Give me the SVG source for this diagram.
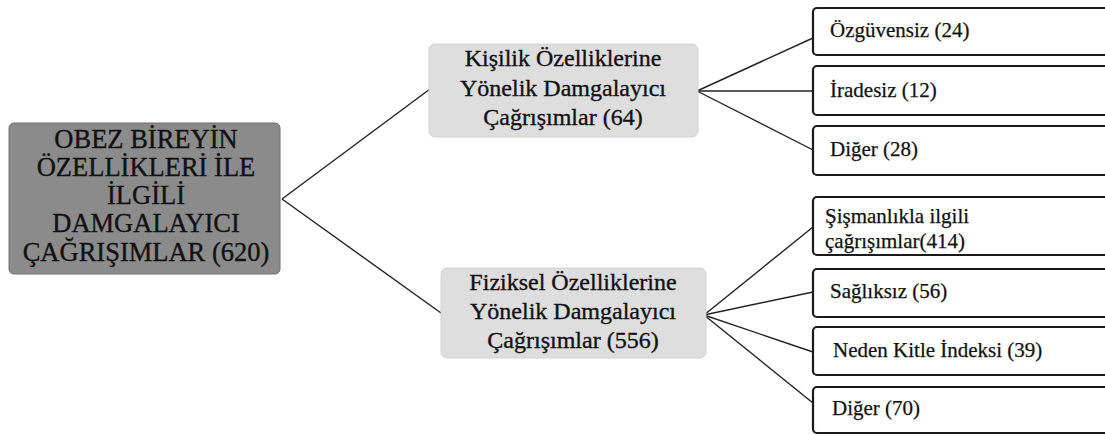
<svg xmlns="http://www.w3.org/2000/svg" width="1105" height="435" viewBox="0 0 1105 435" font-family="'Liberation Serif', 'Times New Roman', serif">
<style>
  text { font-family: "Liberation Serif", "Times New Roman", serif; fill: #111; stroke: #111; stroke-width: 0.35px; }
  .root rect { fill: #8b8b8b; stroke: #6e6e6e; stroke-width: 1; }
  .mid rect { fill: #dedede; stroke: #d2d2d2; stroke-width: 1; }
  .leaf rect { fill: #fff; stroke: #1a1a1a; stroke-width: 2.2; }
  .root text { font-size: 26.5px; text-anchor: middle; }
  .mid text { font-size: 24px; text-anchor: middle; }
  .leaf text { font-size: 21px; stroke-width: 0.25px; }
  .conn line { stroke: #222; stroke-width: 1.4; }
</style>
<rect width="1105" height="435" fill="#fff"/>
<g class="conn">
  <line x1="282" y1="199" x2="430" y2="89"/>
  <line x1="282" y1="199" x2="441" y2="313"/>
  <line x1="697" y1="91" x2="813" y2="38"/>
  <line x1="697" y1="91" x2="813" y2="91"/>
  <line x1="697" y1="91" x2="813" y2="150"/>
  <line x1="704" y1="315" x2="813" y2="227"/>
  <line x1="704" y1="315" x2="813" y2="292"/>
  <line x1="704" y1="315" x2="813" y2="352"/>
  <line x1="704" y1="315" x2="813" y2="403"/>
</g>
<g id="root" class="root">
  <rect x="9" y="123" width="271" height="151" rx="5"/>
  <text x="146" y="148">OBEZ BİREYİN</text>
  <text x="146" y="176">ÖZELLİKLERİ İLE</text>
  <text x="146" y="204">İLGİLİ</text>
  <text x="146" y="232">DAMGALAYICI</text>
  <text x="146" y="261">ÇAĞRIŞIMLAR (620)</text>
</g>
<g id="kisilik" class="mid">
  <rect x="429" y="44" width="269" height="93" rx="6"/>
  <text x="563" y="66">Kişilik Özelliklerine</text>
  <text x="563" y="96">Yönelik Damgalayıcı</text>
  <text x="563" y="125">Çağrışımlar (64)</text>
</g>
<g id="fiziksel" class="mid">
  <rect x="441" y="268" width="265" height="90" rx="6"/>
  <text x="573" y="290">Fiziksel Özelliklerine</text>
  <text x="573" y="319">Yönelik Damgalayıcı</text>
  <text x="573" y="348">Çağrışımlar (556)</text>
</g>
<g id="ozguvensiz" class="leaf">
  <rect x="813" y="8" width="300" height="47" rx="4"/>
  <text x="830" y="37">Özgüvensiz (24)</text>
</g>
<g id="iradesiz" class="leaf">
  <rect x="813" y="66" width="300" height="49" rx="4"/>
  <text x="830" y="97">İradesiz (12)</text>
</g>
<g id="diger1" class="leaf">
  <rect x="813" y="126" width="300" height="49" rx="4"/>
  <text x="830" y="156">Diğer (28)</text>
</g>
<g id="sismanlik" class="leaf">
  <rect x="813" y="197" width="300" height="58" rx="4"/>
  <text x="825" y="223">Şişmanlıkla ilgili</text>
  <text x="825" y="248">çağrışımlar(414)</text>
</g>
<g id="sagliksiz" class="leaf">
  <rect x="813" y="269" width="300" height="48" rx="4"/>
  <text x="830" y="298">Sağlıksız (56)</text>
</g>
<g id="neden" class="leaf">
  <rect x="813" y="327" width="300" height="48" rx="4"/>
  <text x="833" y="357">Neden Kitle İndeksi (39)</text>
</g>
<g id="diger2" class="leaf">
  <rect x="813" y="387" width="300" height="46" rx="4"/>
  <text x="832" y="415">Diğer (70)</text>
</g>
</svg>
